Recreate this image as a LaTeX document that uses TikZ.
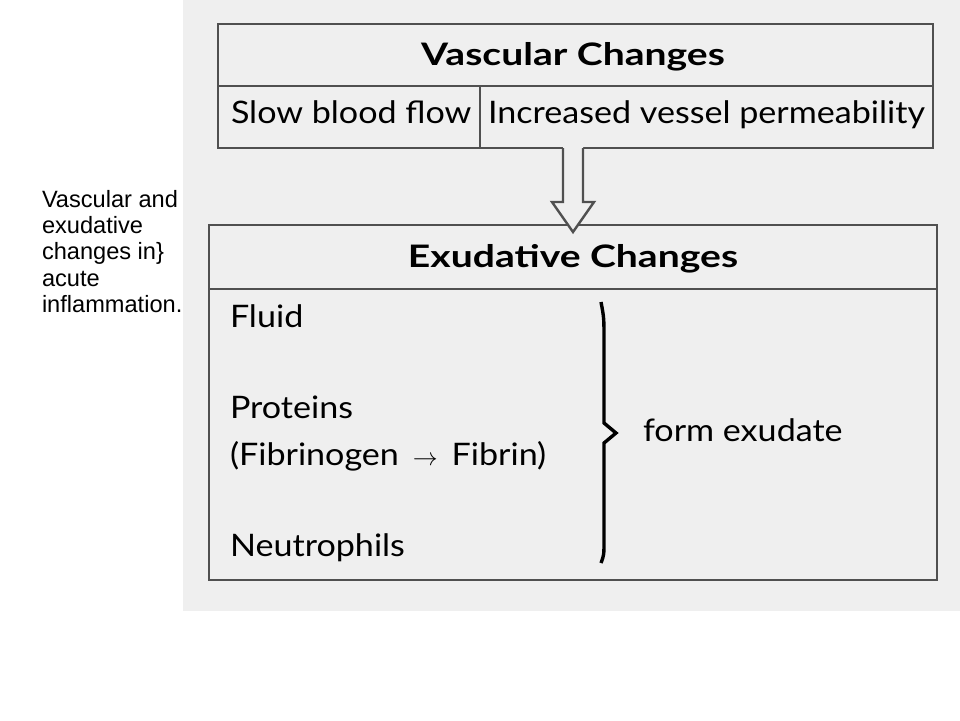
\documentclass[tikz,border=0pt]{standalone}
\usepackage{fontspec}
\setmainfont{Lato}[FakeStretch=1.1,BoldFeatures={FakeStretch=1.26}]
\newfontfamily\capfont{Liberation Sans}
\definecolor{panel}{RGB}{239,239,239}
\definecolor{rule}{RGB}{80,80,80}
\begin{document}
\begin{tikzpicture}[x=1pt,y=-1pt,
	every node/.style={inner sep=0,outer sep=0,font=\fontsize{31}{36}\selectfont},
	frame/.style={draw=rule,line width=2.6pt},
	head/.style={font=\fontsize{31}{36}\selectfont\bfseries,anchor=base},
	item/.style={anchor=base west}]
\useasboundingbox (0,0) rectangle (960,720);
\fill[panel] (183,0) rectangle (960,611);
\node[anchor=north west,align=left,font=\capfont\fontsize{23.6}{26.4}\selectfont] (caption) at (42,190)
	{Vascular and\\exudative\\changes in\}\\acute\\inflammation.};
% vascular box
\node[frame,minimum width=715,minimum height=124] (vasc) at (575.5,86) {};
\draw[frame] (vasc.west |- 0,86) -- (vasc.east |- 0,86);
\draw[frame] (480,86) -- (vasc.south -| 480,0);
\node[head] (vhead) at (573,65) {Vascular Changes};
\node[item] (slow) at (231,123) {Slow blood flow};
\node[item] (perm) at (488,123) {Increased vessel permeability};
% exudative box
\node[frame,minimum width=728,minimum height=355] (exud) at (573,402.5) {};
\draw[frame] (exud.west |- 0,289) -- (exud.east |- 0,289);
\node[head] (ehead) at (573,267) {Exudative Changes};
\node[item] (fluid) at (230,327) {Fluid};
\node[item] (prot) at (230,418) {Proteins};
\node[item] (fib) at (230,465) {(Fibrinogen\, $\rightarrow$\, Fibrin)};
\node[item] (neut) at (230,556) {Neutrophils};
\node[anchor=base west] (form) at (643,441) {form exudate};
% arrow
\coordinate (tip) at (573,232);
\fill[panel] (563,145) -- (563,202) -- (552,202) -- (tip) -- (594,202) -- (583,202) -- (583,145) -- cycle;
\draw[draw=rule,line width=2.4pt,line join=miter] (563,148) -- (563,202) -- (552,202) -- (tip) -- (594,202) -- (583,202) -- (583,148);
% brace
\draw[line width=3.4pt,line join=miter] (601,302) .. controls (604,318) .. (604,340) -- (604,423) -- (616,433) -- (604,443) -- (604,540) .. controls (604,555) .. (601,563);
\end{tikzpicture}
\end{document}
